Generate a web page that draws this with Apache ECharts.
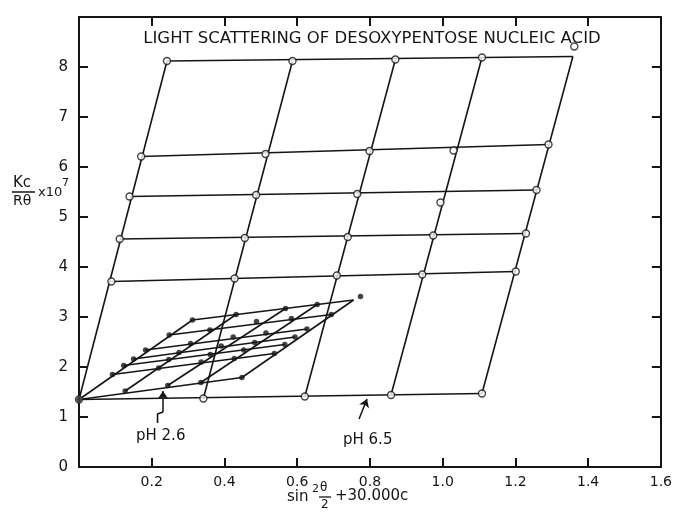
<!DOCTYPE html>
<html>
<head>
<meta charset="utf-8">
<title>Light scattering of desoxypentose nucleic acid</title>
<script src="https://cdn.jsdelivr.net/npm/echarts@6/dist/echarts.min.js"></script>
<style>
	html, body {
		margin: 0;
		padding: 0;
		background: #ffffff;
	}

	#chart {
		width: 675px;
		height: 515px;
	}
</style>
</head>
<body>
<div id="chart"></div>
<script>
	// tick labels
	const xTickLabels = ["", "0.2", "0.4", "0.6", "0.8", "1.0", "1.2", "1.4", "1.6"];
	const yTickLabels = ["0", "1", "2", "3", "4", "5", "6", "7", "8", ""];

	// pH 6.5 grid: open circles (measured points)
	const ph65Points = [
		[0.000, 1.35], [0.342, 1.37], [0.621, 1.41], [0.858, 1.44], [1.108, 1.47],
		[0.089, 3.71], [0.428, 3.77], [0.709, 3.83], [0.944, 3.85], [1.201, 3.91],
		[0.112, 4.56], [0.456, 4.58], [0.739, 4.60], [0.974, 4.63], [1.229, 4.67],
		[0.139, 5.41], [0.487, 5.44], [0.765, 5.46], [0.994, 5.29], [1.258, 5.54],
		[0.171, 6.21], [0.513, 6.26], [0.799, 6.32], [1.030, 6.33], [1.291, 6.45],
		[0.242, 8.12], [0.587, 8.12], [0.870, 8.15], [1.108, 8.19],
		[1.362, 8.41]
	];

	// pH 6.5 grid: constant concentration lines (start, end)
	const ph65Rows = [
		[[0.000, 1.35], [1.108, 1.47]],
		[[0.089, 3.71], [1.201, 3.91]],
		[[0.112, 4.56], [1.229, 4.67]],
		[[0.139, 5.41], [1.258, 5.54]],
		[[0.171, 6.21], [1.291, 6.45]],
		[[0.242, 8.12], [1.358, 8.21]]
	];

	// pH 6.5 grid: constant angle lines (start, end)
	const ph65Cols = [
		[[0.000, 1.35], [0.242, 8.12]],
		[[0.342, 1.37], [0.587, 8.12]],
		[[0.621, 1.41], [0.870, 8.15]],
		[[0.858, 1.44], [1.108, 8.19]],
		[[1.108, 1.47], [1.358, 8.21]]
	];

	// pH 2.6 grid: filled dots
	const ph26Points = [
		[0.000, 1.35], [0.127, 1.52], [0.244, 1.63], [0.335, 1.69], [0.448, 1.79],
		[0.092, 1.85], [0.219, 1.98], [0.336, 2.10], [0.427, 2.17], [0.537, 2.27],
		[0.123, 2.03], [0.247, 2.15], [0.361, 2.25], [0.453, 2.34], [0.566, 2.45],
		[0.150, 2.16], [0.275, 2.29], [0.391, 2.42], [0.483, 2.49], [0.594, 2.60],
		[0.183, 2.34], [0.307, 2.47], [0.424, 2.60], [0.514, 2.68], [0.627, 2.76],
		[0.248, 2.64], [0.360, 2.74], [0.488, 2.91], [0.584, 2.97], [0.694, 3.05],
		[0.312, 2.94], [0.432, 3.05], [0.568, 3.17], [0.655, 3.25],
		[0.774, 3.41]
	];

	const ph26Rows = [
		[[0.000, 1.35], [0.448, 1.79]],
		[[0.092, 1.85], [0.537, 2.27]],
		[[0.123, 2.03], [0.566, 2.45]],
		[[0.150, 2.16], [0.594, 2.60]],
		[[0.183, 2.34], [0.627, 2.76]],
		[[0.248, 2.64], [0.694, 3.05]],
		[[0.312, 2.94], [0.755, 3.34]]
	];

	const ph26Cols = [
		[[0.000, 1.35], [0.312, 2.94]],
		[[0.127, 1.52], [0.432, 3.05]],
		[[0.244, 1.63], [0.568, 3.17]],
		[[0.335, 1.69], [0.655, 3.25]],
		[[0.448, 1.79], [0.755, 3.34]]
	];

	// label pointers
	const ph26ArrowShaft = [[0.216, 0.88], [0.216, 1.06], [0.231, 1.10]];
	const ph26ArrowHead = [[0.231, 1.10], [0.231, 1.52]];
	const ph65Arrow = [[0.770, 0.96], [0.792, 1.36]];

	const ink = "#151515";
	const font = "DejaVu Sans";

	function lineSeries(seg) {
		return {
			type: "line",
			data: seg,
			symbol: "none",
			silent: true,
			lineStyle: { color: ink, width: 1.6 },
			z: 2
		};
	}

	function arrowSeries(seg) {
		return {
			type: "line",
			data: [],
			silent: true,
			markLine: {
				silent: true,
				symbol: ["none", "arrow"],
				symbolSize: 8,
				label: { show: false },
				lineStyle: { color: ink, width: 1.5, type: "solid" },
				data: [[{ coord: seg[0] }, { coord: seg[1] }]]
			}
		};
	}

	const series = [];
	ph65Rows.concat(ph65Cols, ph26Rows, ph26Cols).forEach(function (seg) {
		series.push(lineSeries(seg));
	});
	series.push(lineSeries(ph26ArrowShaft));
	series.push(arrowSeries(ph26ArrowHead));
	series.push(arrowSeries(ph65Arrow));

	series.push({
		name: "pH 6.5",
		type: "scatter",
		data: ph65Points,
		symbol: "circle",
		symbolSize: 7,
		silent: true,
		itemStyle: { color: "#ffffff", borderColor: ink, borderWidth: 1.4 },
		z: 3
	});
	series.push({
		name: "pH 2.6",
		type: "scatter",
		data: ph26Points,
		symbol: "circle",
		symbolSize: 5.5,
		silent: true,
		itemStyle: { color: ink },
		z: 4
	});

	// frame on all four sides, ticks pointing inwards
	const frameAxis = {
		axisLine: { show: true, onZero: false, lineStyle: { color: ink, width: 2 } },
		axisTick: { show: true, inside: true, length: 9, lineStyle: { color: ink, width: 2 } },
		splitLine: { show: false }
	};

	const chart = echarts.init(document.getElementById("chart"));
	chart.setOption({
		animation: false,
		backgroundColor: "#ffffff",
		title: {
			text: "LIGHT SCATTERING OF DESOXYPENTOSE NUCLEIC ACID",
			left: 367,
			top: 25,
			textAlign: "center",
			textStyle: { color: ink, fontFamily: font, fontSize: 16.5, fontWeight: "normal" }
		},
		grid: { left: 79, right: 9, top: 17, bottom: 48 },
		xAxis: [
			Object.assign({}, frameAxis, {
				type: "value",
				min: 0,
				max: 1.6,
				interval: 0.2,
				position: "bottom",
				axisLabel: {
					color: ink,
					fontFamily: font,
					fontSize: 14,
					margin: 8,
					formatter: function (v) { return xTickLabels[Math.round(v / 0.2)]; }
				}
			}),
			Object.assign({}, frameAxis, {
				type: "value",
				min: 0,
				max: 1.6,
				interval: 0.2,
				position: "top",
				axisLabel: { show: false }
			})
		],
		yAxis: [
			Object.assign({}, frameAxis, {
				type: "value",
				min: 0,
				max: 9,
				interval: 1,
				position: "left",
				axisLabel: {
					color: ink,
					fontFamily: font,
					fontSize: 15,
					margin: 11,
					formatter: function (v) { return yTickLabels[Math.round(v)]; }
				}
			}),
			Object.assign({}, frameAxis, {
				type: "value",
				min: 0,
				max: 9,
				interval: 1,
				position: "right",
				axisLabel: { show: false }
			})
		],
		graphic: [
			// y axis title: Kc / R_theta x 10^7
			{ type: "text", left: 13, top: 176, style: { text: "Kc", font: "15px " + font, fill: ink } },
			{ type: "line", shape: { x1: 12, y1: 192, x2: 35, y2: 192 }, style: { stroke: ink, lineWidth: 1.5 } },
			{ type: "text", left: 13, top: 194, style: { text: "Rθ", font: "14px " + font, fill: ink } },
			{ type: "text", left: 38, top: 186, style: { text: "x10", font: "13px " + font, fill: ink } },
			{ type: "text", left: 62, top: 178, style: { text: "7", font: "11px " + font, fill: ink } },
			// x axis title: sin^2 (theta/2) + 30.000c
			{ type: "text", left: 287, top: 490, style: { text: "sin", font: "15px " + font, fill: ink } },
			{ type: "text", left: 312, top: 484, style: { text: "2", font: "11px " + font, fill: ink } },
			{ type: "text", left: 320, top: 482, style: { text: "θ", font: "12px " + font, fill: ink } },
			{ type: "line", shape: { x1: 319, y1: 497, x2: 331, y2: 497 }, style: { stroke: ink, lineWidth: 1.3 } },
			{ type: "text", left: 321, top: 499, style: { text: "2", font: "12px " + font, fill: ink } },
			{ type: "text", left: 335, top: 489, style: { text: "+30.000c", font: "15px " + font, fill: ink } },
			// curve labels
			{ type: "text", left: 136, top: 429, style: { text: "pH 2.6", font: "15px " + font, fill: ink } },
			{ type: "text", left: 343, top: 433, style: { text: "pH 6.5", font: "15px " + font, fill: ink } }
		],
		series: series
	});
</script>
</body>
</html>
